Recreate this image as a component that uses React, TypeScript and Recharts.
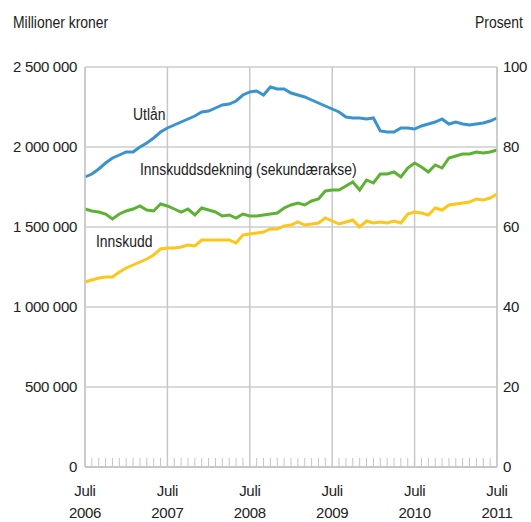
import React from 'react';
import { LineChart, Line, XAxis, YAxis, CartesianGrid, ReferenceLine } from 'recharts';

// Månedlige observasjoner, juli 2006 - juli 2011
const startYear = 2006;
const months: string[] = Array.from({ length: 61 }, (_, i) => {
  const m = 6 + i; // juli = 6 (0-basert)
  const y = startYear + Math.floor(m / 12);
  return `${y}-${String((m % 12) + 1).padStart(2, '0')}`;
});

// Millioner kroner
const utlan = [
  1812500, 1831250, 1862500, 1900000, 1931250, 1950000, 1968750, 1968750, 2000000, 2025000,
  2056250, 2093750, 2118750, 2137500, 2156250, 2175000, 2193750, 2218750, 2225000, 2243750,
  2262500, 2268750, 2287500, 2325000, 2343750, 2350000, 2325000, 2375000, 2362500, 2362500,
  2337500, 2325000, 2312500, 2293750, 2275000, 2256250, 2237500, 2218750, 2187500, 2181250,
  2181250, 2175000, 2181250, 2100000, 2093750, 2093750, 2118750, 2118750, 2112500, 2131250,
  2143750, 2156250, 2175000, 2143750, 2156250, 2143750, 2137500, 2143750, 2150000, 2162500,
  2181250,
];

const innskudd = [
  1156250, 1168750, 1181250, 1187500, 1187500, 1218750, 1243750, 1262500, 1281250, 1300000,
  1325000, 1362500, 1368750, 1368750, 1375000, 1387500, 1381250, 1418750, 1418750, 1418750,
  1418750, 1418750, 1400000, 1450000, 1456250, 1462500, 1468750, 1487500, 1487500, 1506250,
  1512500, 1531250, 1512500, 1518750, 1525000, 1556250, 1537500, 1518750, 1531250, 1543750,
  1500000, 1537500, 1525000, 1531250, 1525000, 1537500, 1525000, 1581250, 1593750, 1587500,
  1575000, 1618750, 1606250, 1637500, 1643750, 1650000, 1656250, 1675000, 1668750, 1681250,
  1706250,
];

// Prosent (sekundærakse)
const dekning = [
  64.5, 64.0, 63.75, 63.25, 62.0, 63.25, 64.0, 64.5, 65.25, 64.25,
  64.0, 65.75, 65.25, 64.5, 63.75, 64.5, 63.0, 64.75, 64.25, 63.75,
  62.75, 63.0, 62.25, 63.25, 62.75, 62.75, 63.0, 63.25, 63.5, 64.75,
  65.5, 66.0, 65.5, 66.5, 67.0, 69.0, 69.25, 69.25, 70.25, 71.25,
  69.25, 71.75, 71.0, 73.25, 73.25, 73.75, 72.5, 74.75, 76.0, 75.0,
  73.75, 75.5, 74.75, 77.25, 77.75, 78.25, 78.25, 78.75, 78.5, 78.75,
  79.25,
];

const leftTicks = [0, 500000, 1000000, 1500000, 2000000, 2500000];
const rightTicks = [0, 20, 40, 60, 80, 100];
const julyMonths = months.filter(m => m.endsWith('-07'));

const data = months.map((month, i) => ({
  month,
  utlan: utlan[i],
  innskudd: innskudd[i],
  dekning: dekning[i],
}));

const FONT = '"Liberation Sans", Arial, sans-serif';
const FS = 15;
const LS = -0.3;
const PLOT_BOTTOM = 467;

const formatKroner = (v: number) =>
  v === 0 ? '0' : v.toLocaleString('en-US').replace(/,/g, ' ');

const MonthTick = (props: any) => {
  const { x, payload } = props;
  const value: string = payload.value;
  const isJuly = value.endsWith('-07');
  return (
    <g>
      {!isJuly && (
        <line x1={x} x2={x} y1={PLOT_BOTTOM} y2={PLOT_BOTTOM - 9} stroke="#c4c4c4" strokeWidth={1} />
      )}
      {isJuly && (
        <text x={x} y={496} textAnchor="middle" fontFamily={FONT} fontSize={FS} letterSpacing={LS} fill="#222">
          <tspan x={x} dy={0}>Juli</tspan>
          <tspan x={x} dy={22}>{value.slice(0, 4)}</tspan>
        </text>
      )}
    </g>
  );
};

// narrow-looking labels: slightly larger font squeezed horizontally
const labelStyle: React.CSSProperties = {
  position: 'absolute',
  fontFamily: FONT,
  fontSize: 16,
  color: '#222',
  whiteSpace: 'nowrap',
  lineHeight: '20px',
  transform: 'scaleX(0.87)',
  transformOrigin: 'left center',
};

export default function App() {
  return (
    <div style={{ position: 'absolute', left: 0, top: 0, width: 531, height: 522, background: '#fff' }}>
      <LineChart
        width={531}
        height={522}
        data={data}
        margin={{ top: 67, right: 0, bottom: 0, left: 10 }}
      >
        <CartesianGrid yAxisId="left" vertical={false} stroke="#d9d9d9" strokeWidth={2} />
        {julyMonths.map(m => (
          <ReferenceLine key={m} x={m} yAxisId="left" stroke="#c8c8c8" strokeWidth={1.5} />
        ))}
        <XAxis
          dataKey="month"
          interval={0}
          height={55}
          tickLine={false}
          tickSize={0}
          axisLine={{ stroke: '#c8c8c8', strokeWidth: 2 }}
          tick={<MonthTick />}
        />
        <YAxis
          yAxisId="left"
          width={75}
          domain={[0, 2500000]}
          ticks={leftTicks}
          tickFormatter={formatKroner}
          tickLine={false}
          tickSize={0}
          tickMargin={8}
          axisLine={{ stroke: '#c8c8c8', strokeWidth: 1.5 }}
          tick={{ fontFamily: FONT, fontSize: FS, letterSpacing: LS, fill: '#222' }}
        />
        <YAxis
          yAxisId="right"
          orientation="right"
          width={34}
          domain={[0, 100]}
          ticks={rightTicks}
          tickLine={false}
          tickSize={0}
          tickMargin={6}
          axisLine={{ stroke: '#c8c8c8', strokeWidth: 1.5 }}
          tick={{ fontFamily: FONT, fontSize: FS, letterSpacing: LS, fill: '#222', textAnchor: 'start' }}
        />
        <Line
          yAxisId="left"
          dataKey="utlan"
          stroke="#3a93cd"
          strokeWidth={3}
          dot={false}
          type="linear"
          isAnimationActive={false}
        />
        <Line
          yAxisId="right"
          dataKey="dekning"
          stroke="#5db233"
          strokeWidth={3}
          dot={false}
          type="linear"
          isAnimationActive={false}
        />
        <Line
          yAxisId="left"
          dataKey="innskudd"
          stroke="#fcc61a"
          strokeWidth={3}
          dot={false}
          type="linear"
          isAnimationActive={false}
        />
      </LineChart>
      <div style={{ ...labelStyle, left: 13, top: 13 }}>Millioner kroner</div>
      <div style={{ ...labelStyle, left: 475, top: 13 }}>Prosent</div>
      <div style={{ ...labelStyle, left: 133, top: 105 }}>Utlån</div>
      <div style={{ ...labelStyle, left: 140, top: 160 }}>Innskuddsdekning (sekundærakse)</div>
      <div style={{ ...labelStyle, left: 96, top: 232 }}>Innskudd</div>
    </div>
  );
}
